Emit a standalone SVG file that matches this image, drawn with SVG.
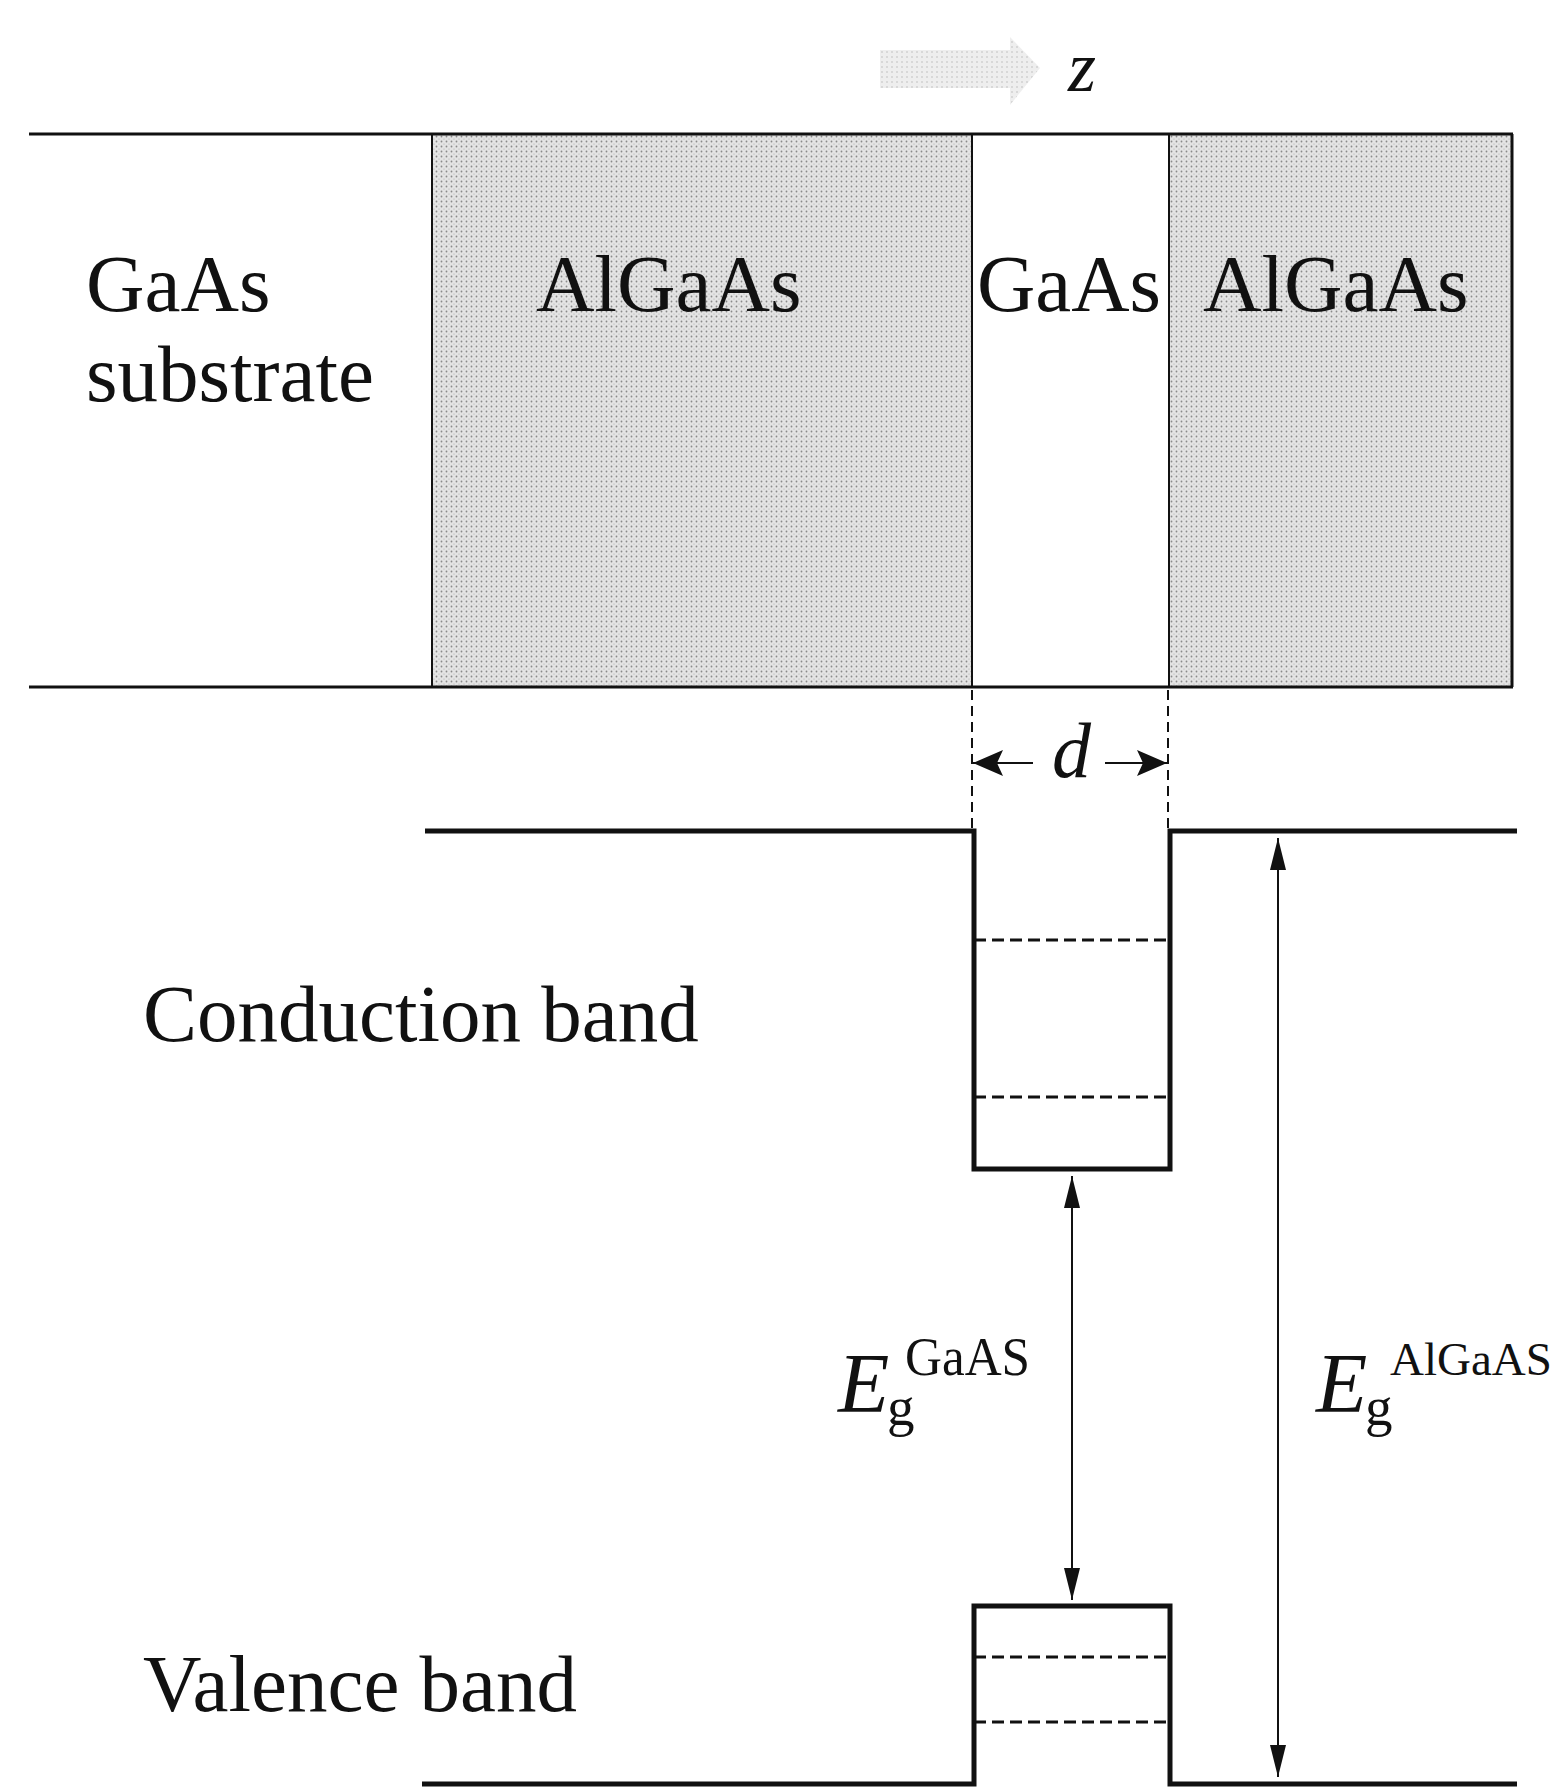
<svg xmlns="http://www.w3.org/2000/svg" width="1560" height="1788" viewBox="0 0 1560 1788">
<style>
.t{font-family:"Liberation Serif","Times New Roman",serif;fill:#111;}
.it{font-style:italic;}
.ln{stroke:#111;fill:none;}
.band{stroke:#111;stroke-width:5;fill:none;}
.lvl{stroke:#111;stroke-width:3;stroke-dasharray:12 6;}
.dim{stroke:#111;stroke-width:2;stroke-dasharray:10 6;}
.arr{stroke:#111;stroke-width:2;}
</style>
<defs>
<pattern id="dots" width="5" height="5" patternUnits="userSpaceOnUse">
<rect width="5" height="5" fill="#e4e4e4"/>
<circle cx="1.5" cy="1.5" r="0.9" fill="#8a8a8a"/>
<circle cx="4" cy="4" r="0.6" fill="#aaaaaa"/>
</pattern>
<pattern id="lightdots" width="5" height="5" patternUnits="userSpaceOnUse">
<rect width="5" height="5" fill="#eeeeee"/>
<circle cx="2" cy="2" r="0.8" fill="#bdbdbd"/>
</pattern>
<marker id="ah" viewBox="0 0 32 16" refX="32" refY="8" markerWidth="32" markerHeight="16" markerUnits="userSpaceOnUse" orient="auto-start-reverse">
<path d="M0,0 L32,8 L0,16 Z" fill="#111"/>
</marker>
<marker id="dh" viewBox="0 0 30 26" refX="30" refY="13" markerWidth="30" markerHeight="26" markerUnits="userSpaceOnUse" orient="auto">
<path d="M0,0 L30,13 L0,26 L6,13 Z" fill="#111"/>
</marker>
</defs>
<rect width="1560" height="1788" fill="#ffffff"/>

<g id="z-axis">
<polygon points="880,50 1010,50 1010,37 1040,68 1010,105 1010,88 880,88" fill="url(#lightdots)"/>
<text class="t it" x="1068" y="91" font-size="72" fill="#444">z</text>
</g>

<g id="substrate">
<text class="t" x="86" y="311" font-size="81">GaAs</text>
<text class="t" x="86" y="401" font-size="81">substrate</text>
</g>
<g id="algaas-left">
<rect x="432" y="134" width="540" height="553" fill="url(#dots)"/>
<text class="t" x="536" y="311" font-size="81">AlGaAs</text>
</g>
<g id="gaas-well">
<rect x="972" y="134" width="197" height="553" fill="#ffffff"/>
<text class="t" x="977" y="311" font-size="81" textLength="184" lengthAdjust="spacingAndGlyphs">GaAs</text>
</g>
<g id="algaas-right">
<rect x="1169" y="134" width="343" height="553" fill="url(#dots)"/>
<text class="t" x="1203" y="311" font-size="81">AlGaAs</text>
</g>
<g id="layer-lines">
<line class="ln" x1="29" y1="134" x2="1513" y2="134" stroke-width="3"/>
<line class="ln" x1="29" y1="687" x2="1513" y2="687" stroke-width="3"/>
<line class="ln" x1="432" y1="134" x2="432" y2="687" stroke-width="2"/>
<line class="ln" x1="972" y1="134" x2="972" y2="687" stroke-width="2"/>
<line class="ln" x1="1169" y1="134" x2="1169" y2="687" stroke-width="2"/>
<line class="ln" x1="1512" y1="134" x2="1512" y2="687" stroke-width="3"/>
</g>

<g id="conduction-band">
<path class="band" d="M425,831 H974 V1169 H1170 V831 H1517"/>
<line class="lvl" x1="974" y1="940" x2="1170" y2="940"/>
<line class="lvl" x1="974" y1="1097" x2="1170" y2="1097"/>
<text class="t" x="143" y="1041" font-size="81">Conduction band</text>
</g>
<g id="valence-band">
<path class="band" d="M422,1784 H974 V1606 H1170 V1784 H1517"/>
<line class="lvl" x1="974" y1="1657" x2="1170" y2="1657"/>
<line class="lvl" x1="974" y1="1722" x2="1170" y2="1722"/>
<text class="t" x="143" y="1711" font-size="81">Valence band</text>
</g>
<g id="label-eg-gaas">
<text class="t it" x="838" y="1412" font-size="84">E</text>
<text class="t" x="905" y="1375" font-size="54" textLength="125" lengthAdjust="spacingAndGlyphs">GaAS</text>
<text class="t" x="887" y="1425" font-size="55">g</text>
</g>
<g id="label-eg-algaas">
<text class="t it" x="1316" y="1412" font-size="84">E</text>
<text class="t" x="1390" y="1375" font-size="47">AlGaAS</text>
<text class="t" x="1365" y="1425" font-size="55">g</text>
</g>
<g id="label-d">
<text class="t it" x="1052" y="777" font-size="78">d</text>
</g>

<g id="connectors">
<line class="dim" x1="972" y1="690" x2="972" y2="829"/>
<line class="dim" x1="1168" y1="690" x2="1168" y2="829"/>
<line class="arr" x1="1033" y1="763" x2="973" y2="763" marker-end="url(#dh)"/>
<line class="arr" x1="1105" y1="763" x2="1167" y2="763" marker-end="url(#dh)"/>
<line class="arr" x1="1072" y1="1176" x2="1072" y2="1600" marker-start="url(#ah)" marker-end="url(#ah)"/>
<line class="arr" x1="1278" y1="838" x2="1278" y2="1777" marker-start="url(#ah)" marker-end="url(#ah)"/>
</g>
</svg>
